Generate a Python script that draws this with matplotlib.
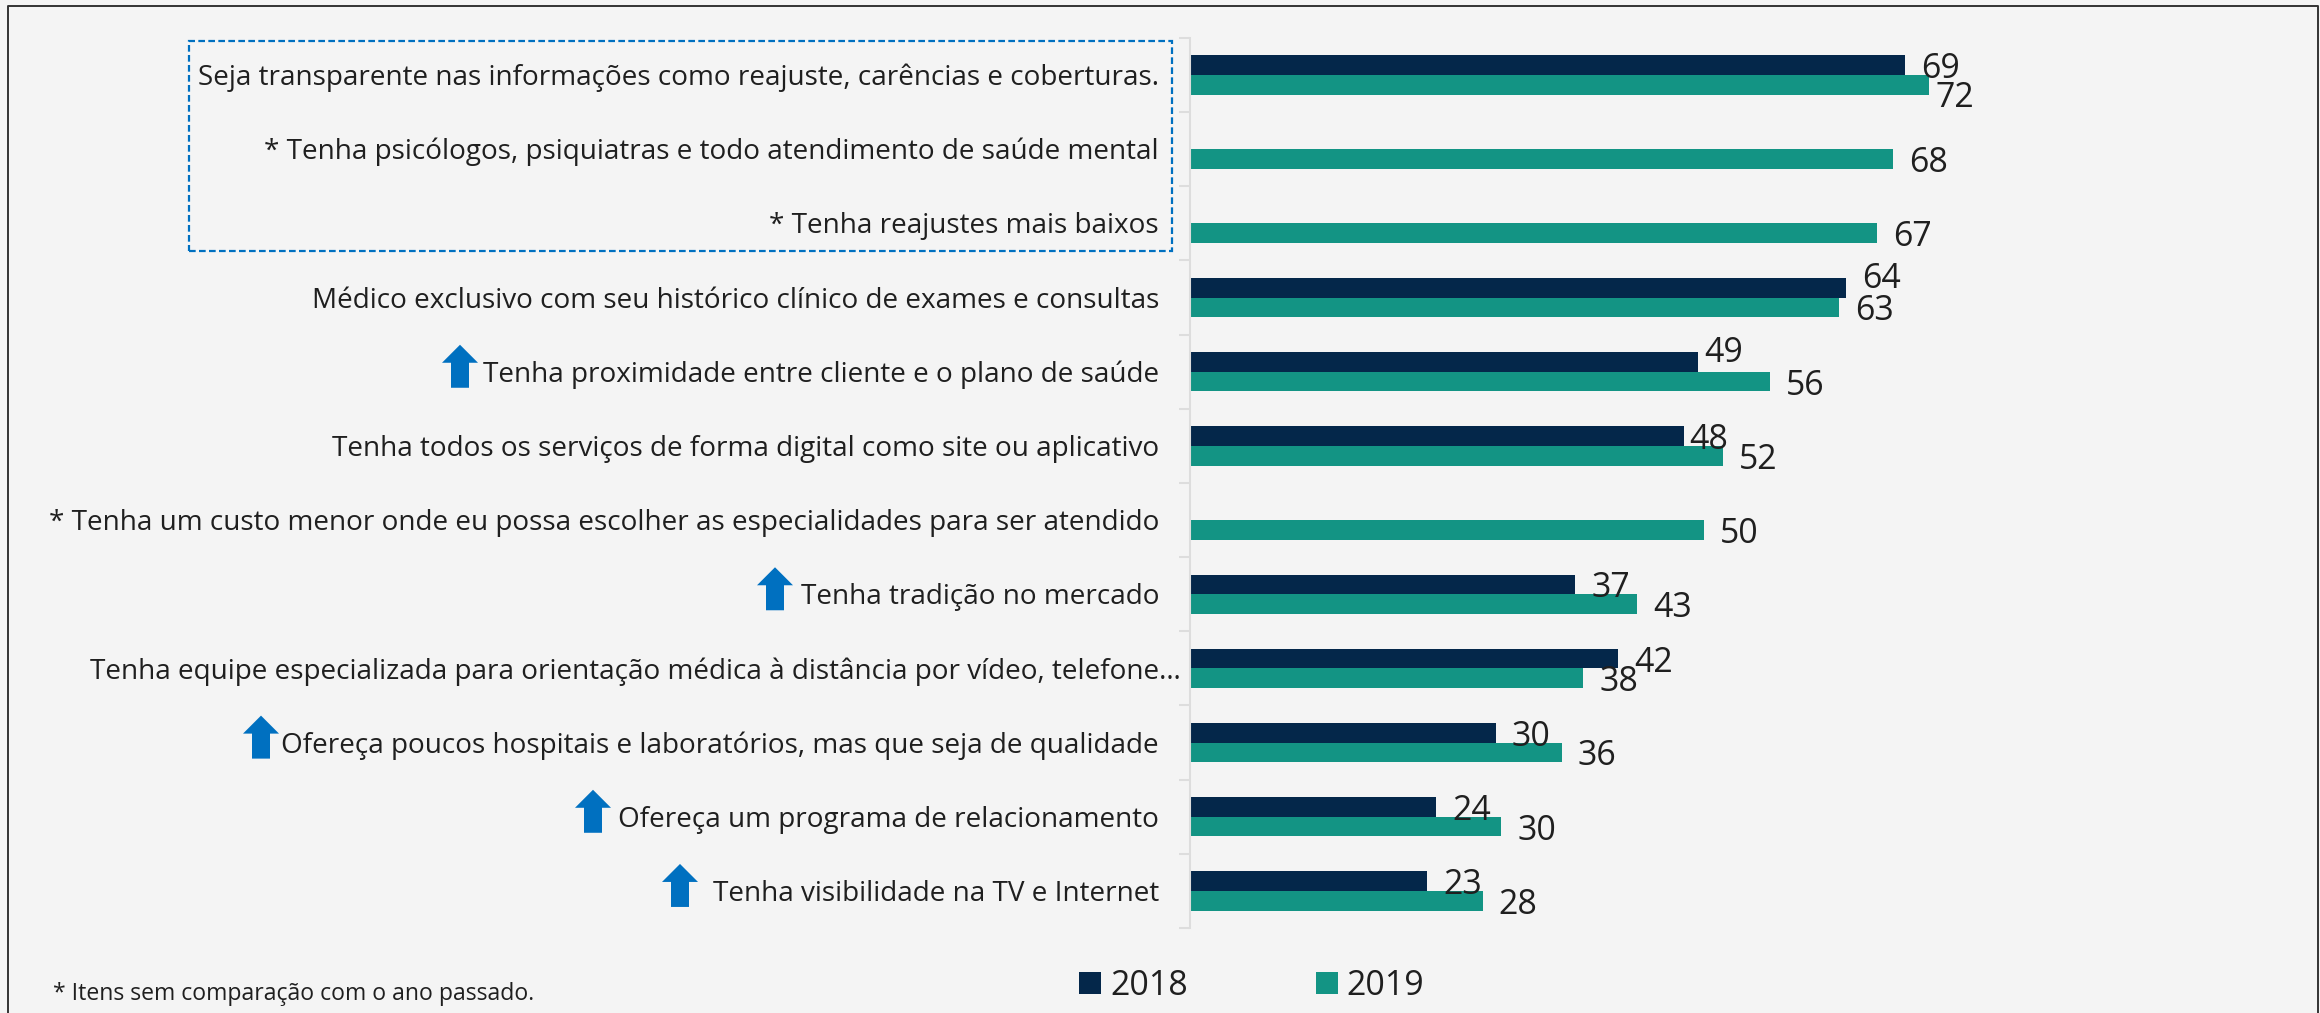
import numpy as np
import matplotlib
matplotlib.use("Agg")
import matplotlib.pyplot as plt
from matplotlib.patches import Rectangle, Polygon

plt.rcParams["font.family"] = ["Open Sans", "DejaVu Sans"]

W, H = 2320, 1013
BG = "#F4F4F4"
DARK = "#04274A"
GREEN = "#139484"
BLUE = "#0070C0"
TEXT = "#1F1F1F"

categories = [
    "Seja transparente nas informações como reajuste, carências e coberturas.",
    "* Tenha psicólogos, psiquiatras e todo atendimento de saúde mental",
    "* Tenha reajustes mais baixos",
    "Médico exclusivo com seu histórico clínico de exames e consultas",
    "Tenha proximidade entre cliente e o plano de saúde",
    "Tenha todos os serviços de forma digital como site ou aplicativo",
    "* Tenha um custo menor onde eu possa escolher as especialidades para ser atendido",
    "Tenha tradição no mercado",
    "Tenha equipe especializada para orientação médica à distância por vídeo, telefone…",
    "Ofereça poucos hospitais e laboratórios, mas que seja de qualidade",
    "Ofereça um programa de relacionamento",
    "Tenha visibilidade na TV e Internet",
]
values_2018 = [69.4, None, None, 63.7, 49.3, 48.0, None, 37.4, 41.6, 29.7, 23.9, 23.0]
values_2019 = [71.7, 68.3, 66.7, 63.0, 56.3, 51.7, 49.9, 43.4, 38.2, 36.1, 30.2, 28.4]

# categorias com seta azul: (indice, x do centro da seta em pixels)
arrows = [(4, 460), (7, 775), (9, 261), (10, 593), (11, 680)]

# ajustes dos rotulos que fogem do padrao (dx, dy em pixels)
label_shift_2018 = {3: (0, -13), 4: (-10, -13), 5: (-11, 0)}
label_shift_2019 = {0: (-9, 9)}


def px_x(x):
    return x / W


def px_y(y):
    return 1 - y / H


fig = plt.figure(figsize=(W / 100, H / 100), dpi=100, facecolor=BG)

# moldura
fig.add_artist(plt.Line2D([px_x(8), px_x(8), px_x(2318), px_x(2318)],
                          [0, px_y(6), px_y(6), 0], color="#333333", lw=1.4))

ax = fig.add_axes([px_x(1190), px_y(928), px_x(1110), (928 - 38) / H], facecolor=BG)
ax.set_xlim(0, 1110 / 10.3)
ax.set_ylim(12, 0)

y = np.arange(len(categories)) + 0.5
bar_h = 0.265

for i, (v18, v19) in enumerate(zip(values_2018, values_2019)):
    if v18 is not None:
        ax.barh(y[i] - bar_h / 2, v18, height=bar_h, color=DARK)
        dx, dy = label_shift_2018.get(i, (0, 0))
        ax.annotate(str(round(v18)), (v18, y[i] - bar_h / 2), xytext=(16 + dx, -4 - dy),
                    textcoords="offset pixels", va="center", ha="left",
                    fontsize=24.4, color=TEXT)
    ax.barh(y[i] + bar_h / 2, v19, height=bar_h, color=GREEN)
    dx, dy = label_shift_2019.get(i, (0, 0))
    ax.annotate(str(round(v19)), (v19, y[i] + bar_h / 2), xytext=(16 + dx, -4 - dy),
                textcoords="offset pixels", va="center", ha="left",
                fontsize=24.4, color=TEXT)

for side in ["top", "right", "bottom"]:
    ax.spines[side].set_visible(False)
ax.spines["left"].set_color("#DDDDDD")
ax.spines["left"].set_linewidth(1.5)
ax.set_xticks([])
ax.set_yticks(np.arange(13))
ax.set_yticklabels([])
ax.tick_params(axis="y", length=8, width=1.5, color="#DDDDDD")

for i, name in enumerate(categories):
    off = -9 if name.endswith("…") else -31
    ax.annotate(name, (0, y[i]), xytext=(off, -3), textcoords="offset pixels",
                va="center", ha="right", fontsize=20.1, color=TEXT)

for i, cx in arrows:
    cy = 38 + 74.17 * (i + 0.5)
    top, bottom = cy - 27, cy + 16
    pts = [(cx - 18, top + 18), (cx, top), (cx + 18, top + 18), (cx + 9, top + 18),
           (cx + 9, bottom), (cx - 9, bottom), (cx - 9, top + 18)]
    fig.add_artist(Polygon([(px_x(a), px_y(b)) for a, b in pts], closed=True,
                           transform=fig.transFigure, color=BLUE, lw=0))

# caixa tracejada
fig.add_artist(Rectangle((px_x(189), px_y(251)), px_x(983), (251 - 41) / H,
                         transform=fig.transFigure, fill=False, ec=BLUE, lw=1.6,
                         ls=(0, (3, 1.5))))

# legenda
fig.add_artist(Rectangle((px_x(1079), px_y(994)), px_x(22), 22 / H,
                         transform=fig.transFigure, color=DARK, lw=0))
fig.text(px_x(1110), px_y(986), "2018", va="center", ha="left", fontsize=24.4, color=TEXT)
fig.add_artist(Rectangle((px_x(1316), px_y(994)), px_x(22), 22 / H,
                         transform=fig.transFigure, color=GREEN, lw=0))
fig.text(px_x(1346), px_y(986), "2019", va="center", ha="left", fontsize=24.4, color=TEXT)

fig.text(px_x(53), px_y(994), "* Itens sem comparação com o ano passado.",
         va="center", ha="left", fontsize=16.6, color=TEXT)

fig.savefig("out.png", dpi=100, facecolor=BG)
